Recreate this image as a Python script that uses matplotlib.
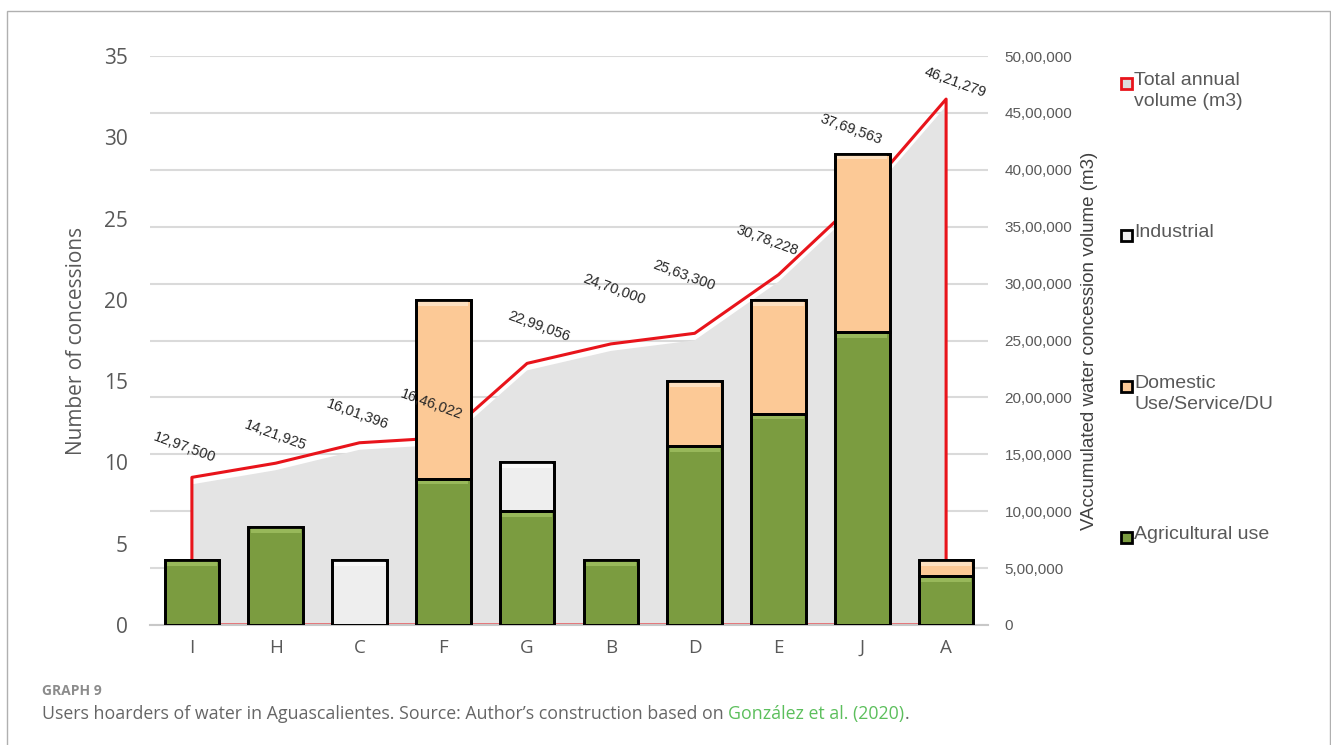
import matplotlib
matplotlib.use("Agg")
import matplotlib.pyplot as plt
import matplotlib.transforms as mtransforms
from matplotlib.patches import Rectangle
from matplotlib.ticker import FuncFormatter, MultipleLocator

# data
users = ["I", "H", "C", "F", "G", "B", "D", "E", "J", "A"]
agricultural = [4, 6, 0, 9, 7, 4, 11, 13, 18, 3]
domestic = [0, 0, 0, 11, 0, 0, 4, 7, 11, 1]
industrial = [0, 0, 4, 0, 3, 0, 0, 0, 0, 0]
total_volume = [1297500, 1421925, 1601396, 1646022, 2299056,
                2470000, 2563300, 3078228, 3769563, 4621279]

# manual label nudges (pixels), like the hand-placed Excel labels
label_offsets = [(-7, 30), (0, 28), (-2, 28), (-12, 33), (12, 37),
                 (3, 54), (-11, 58), (-11, 34), (-11, 67), (9, 17)]

GREEN = "#7b9c40"
GREEN_HI = "#98b85a"
PEACH = "#fcc996"
PEACH_HI = "#fde0c0"
LIGHT = "#eeeeee"
LIGHT_HI = "#f8f8f8"
RED = "#e8141b"
TXT = "#595959"


def indian(n, pos=None):
    s = str(int(round(n)))
    if len(s) <= 3:
        return s
    head, tail = s[:-3], s[-3:]
    groups = []
    while len(head) > 2:
        groups.insert(0, head[-2:])
        head = head[:-2]
    if head:
        groups.insert(0, head)
    return ",".join(groups) + "," + tail


fig = plt.figure(figsize=(13.31, 7.45), dpi=100)
W, H = 1331, 745


def fx(px):
    return px / W


def fy(py):
    return 1 - py / H


ax2 = fig.add_axes([fx(150), fy(625), fx(988) - fx(150), fy(56) - fy(625)])
ax = ax2.twinx()
ax.set_zorder(ax2.get_zorder() + 1)
ax.patch.set_visible(False)

# right axis (volume) sits behind: grid, grey area and red outline
ax2.set_ylim(0, 5000000)
ax2.set_xlim(-0.5, 9.5)
ax2.yaxis.set_major_locator(MultipleLocator(500000))
ax2.grid(axis="y", color="#dadada", lw=1.5, zorder=0)
ax2.set_axisbelow(True)
ax2.yaxis.tick_right()
ax2.yaxis.set_label_position("right")
ax2.yaxis.set_major_formatter(FuncFormatter(indian))
ax2.tick_params(axis="y", length=0, pad=12, labelsize=11, labelcolor=TXT)
for lab in ax2.get_yticklabels():
    lab.set_fontfamily("Liberation Sans")
ax2.set_ylabel("VAccumulated water concession volume (m3)", fontsize=13.5,
               family="Liberation Sans", color="#404040", labelpad=6)

x = list(range(len(users)))
ax2.set_xticks(x)
ax2.set_xticklabels(users)
ax2.tick_params(axis="x", length=0, pad=10, labelsize=13.5, labelcolor=TXT)
for lab in ax2.get_xticklabels():
    lab.set_fontfamily("Open Sans")

poly_x = [x[0]] + x + [x[-1]]
poly_y = [0] + total_volume + [0]
shift = mtransforms.offset_copy(ax2.transData, fig=fig, x=0, y=-7, units="dots")
ax2.fill(poly_x, poly_y, color="#e4e4e4", lw=0, transform=shift, zorder=1)
ax2.plot(poly_x + [x[0]], poly_y + [0], color=RED, lw=2.2, zorder=2)

# left axis (counts) in front: stacked bars
ax.set_ylim(0, 35)
ax.yaxis.set_major_locator(MultipleLocator(5))
ax.yaxis.tick_left()
ax.yaxis.set_label_position("left")
bw = 0.65
bottoms = [0] * len(x)
for vals, face, hi in ((agricultural, GREEN, GREEN_HI),
                       (domestic, PEACH, PEACH_HI),
                       (industrial, LIGHT, LIGHT_HI)):
    bars = ax.bar(x, vals, bw, bottom=bottoms, color=face, edgecolor="black",
                  lw=2, zorder=3)
    # light bevel strip along the top of each segment
    tops = [b + v for b, v in zip(bottoms, vals)]
    strip = [min(0.35, v) for v in vals]
    ax.bar(x, strip, bw * 0.92, bottom=[t - s for t, s in zip(tops, strip)],
           color=hi, lw=0, zorder=3.5)
    for p, v in zip(bars, vals):
        if v == 0:
            p.set_visible(False)
    bottoms = tops
# redraw outlines over the strips
bottoms = [0] * len(x)
for vals in (agricultural, domestic, industrial):
    bars = ax.bar(x, vals, bw, bottom=bottoms, fill=False, edgecolor="black",
                  lw=2, zorder=4)
    for p, v in zip(bars, vals):
        if v == 0:
            p.set_visible(False)
    bottoms = [b + v for b, v in zip(bottoms, vals)]

ax.tick_params(axis="y", length=0, pad=16, labelsize=15, labelcolor=TXT)
for lab in ax.get_yticklabels():
    lab.set_fontfamily("Open Sans")
ax.set_ylabel("Number of concessions", fontsize=15, family="Open Sans",
              color=TXT, labelpad=12)

for a in (ax, ax2):
    for side in ("left", "right", "top"):
        a.spines[side].set_visible(False)
ax2.spines["bottom"].set_visible(False)
ax.spines["bottom"].set_color("#c8c8c8")
ax.spines["bottom"].set_linewidth(1.5)

# data labels for the volume line, drawn in front of the bars
for i, v in enumerate(total_volume):
    dx, dy = label_offsets[i]
    ax.annotate(indian(v), xy=(i, v), xycoords=ax2.transData,
                xytext=(dx, dy), textcoords="offset pixels",
                ha="center", va="center", rotation=-20, fontsize=10.5,
                family="Liberation Sans", color="#262626", zorder=6)

# legend, laid out the way Excel spread it
legend_items = [
    ("Total annual\nvolume (m3)", "#dddddd", RED, 83),
    ("Industrial", LIGHT, "black", 235),
    ("Domestic\nUse/Service/DU", PEACH, "black", 386),
    ("Agricultural use", GREEN, "black", 537),
]
for label, face, edge, ypx in legend_items:
    fig.patches.append(Rectangle((fx(1121), fy(ypx + 6)), fx(11), 11 / H,
                                 transform=fig.transFigure, facecolor=face,
                                 edgecolor=edge, lw=2))
    fig.text(fx(1134), fy(ypx - 11), label, ha="left", va="top", fontsize=14,
             family="Liberation Sans", color=TXT, linespacing=1.32)

# frame around the figure
fig.patches.append(Rectangle((fx(7), -0.01), fx(1330) - fx(7), fy(11) + 0.01,
                             transform=fig.transFigure, fill=False,
                             edgecolor="#b0b0b0", lw=1))

# caption
fig.text(fx(42), fy(691), "GRAPH 9", ha="left", va="center", fontsize=10,
         fontweight="bold", family="Open Sans", color="#8c8c8c")
cap = fig.text(fx(42), fy(714),
               "Users hoarders of water in Aguascalientes. Source: Author\u2019s "
               "construction based on ",
               ha="left", va="center", fontsize=12.8, family="Open Sans",
               color="#666666")
fig.canvas.draw()
bb = cap.get_window_extent()
link = fig.text(bb.x1 / W, fy(714), "Gonz\u00e1lez et al. (2020)", ha="left",
                va="center", fontsize=12.8, family="Open Sans", color="#5cbf5c")
fig.canvas.draw()
bb2 = link.get_window_extent()
fig.text(bb2.x1 / W, fy(714), ".", ha="left", va="center", fontsize=12.8,
         family="Open Sans", color="#666666")

fig.savefig("out.png", dpi=100)
